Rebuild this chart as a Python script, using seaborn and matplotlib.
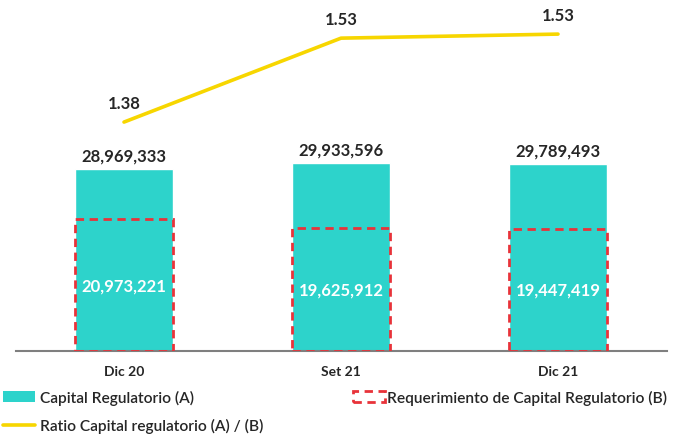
import matplotlib
matplotlib.use("Agg")
import matplotlib.pyplot as plt
import seaborn as sns
import pandas as pd
from matplotlib.patches import Patch
from matplotlib.lines import Line2D

categories = ["Dic 20", "Set 21", "Dic 21"]
capital = [28969333, 29933596, 29789493]
requerimiento = [20973221, 19625912, 19447419]
ratio = [1.38, 1.525, 1.532]
ratio_labels = ["1.38", "1.53", "1.53"]

TEAL = "#2DD3CB"
RED = "#E8333A"
YELLOW = "#F7D600"
DARK = "#262626"

sns.set_theme(style="white")
plt.rcParams["font.family"] = ["Lato", "DejaVu Sans"]

df = pd.DataFrame({"cat": categories, "cap": capital, "req": requerimiento, "ratio": ratio})

fig = plt.figure(figsize=(6.8, 4.35), dpi=100)
ax = fig.add_axes([15.5 / 680, 83 / 435, 651 / 680, 347 / 435])

sns.barplot(data=df, x="cat", y="cap", color=TEAL, saturation=1, width=0.45, ax=ax, zorder=2)
sns.barplot(data=df, x="cat", y="req", color=RED, saturation=1, width=0.45, ax=ax,
            fill=False, linestyle=(0, (3, 2)), linewidth=2.0, zorder=3)

ax.set_xlim(-0.5, 2.5)
ax.set_ylim(0, 55.2e6)
for s in ["top", "right", "left"]:
    ax.spines[s].set_visible(False)
ax.spines["bottom"].set_color("#7f7f7f")
ax.spines["bottom"].set_linewidth(1.5)
ax.set_yticks([])
ax.set_xlabel("")
ax.set_ylabel("")
ax.tick_params(axis="x", length=0, pad=10)
for t in ax.get_xticklabels():
    t.set_fontweight("bold")
    t.set_fontsize(10)
    t.set_color(DARK)

for i, (c, r) in enumerate(zip(capital, requerimiento)):
    ax.annotate(f"{c:,}", (i, c), xytext=(0, 4), textcoords="offset points",
                ha="center", va="bottom", fontsize=12, fontweight="bold", color=DARK)
    ax.text(i, r / 2, f"{r:,}", ha="center", va="center", fontsize=12,
            fontweight="bold", color="white", zorder=4)

ax2 = ax.twinx()
sns.lineplot(x=[0, 1, 2], y=ratio, color=YELLOW, linewidth=2.6, ax=ax2, sort=False)
ax2.set_ylim(0.9845, 1.584)
ax2.set_yticks([])
ax2.set_ylabel("")
for s in ["top", "right", "left", "bottom"]:
    ax2.spines[s].set_visible(False)
for i, (v, lab) in enumerate(zip(ratio, ratio_labels)):
    ax2.annotate(lab, (i, v), xytext=(0, 8), textcoords="offset points",
                 ha="center", va="bottom", fontsize=12, fontweight="bold", color=DARK)

h_cap = Patch(facecolor=TEAL, edgecolor="none", label="Capital Regulatorio (A)")
h_ratio = Line2D([0], [0], color=YELLOW, linewidth=2.6, label="Ratio Capital regulatorio (A) / (B)")
h_req = Patch(facecolor="none", edgecolor=RED, linestyle=(0, (3, 2)), linewidth=2,
              label="Requerimiento de Capital Regulatorio (B)")

leg1 = fig.legend(handles=[h_cap, h_ratio], loc="upper left", bbox_to_anchor=(3 / 680, 0.102),
                  frameon=False, prop={"size": 11.2, "weight": "semibold"},
                  handlelength=2.05, handletextpad=0.35,
                  labelspacing=0.85, borderaxespad=0, borderpad=0)
leg2 = fig.legend(handles=[h_req], loc="upper left", bbox_to_anchor=(353 / 680, 0.102),
                  frameon=False, prop={"size": 11.2, "weight": "semibold"},
                  handlelength=2.05, handletextpad=0.15,
                  borderaxespad=0, borderpad=0)
for leg in (leg1, leg2):
    for t in leg.get_texts():
        t.set_color(DARK)

fig.savefig("out.png", dpi=100)
